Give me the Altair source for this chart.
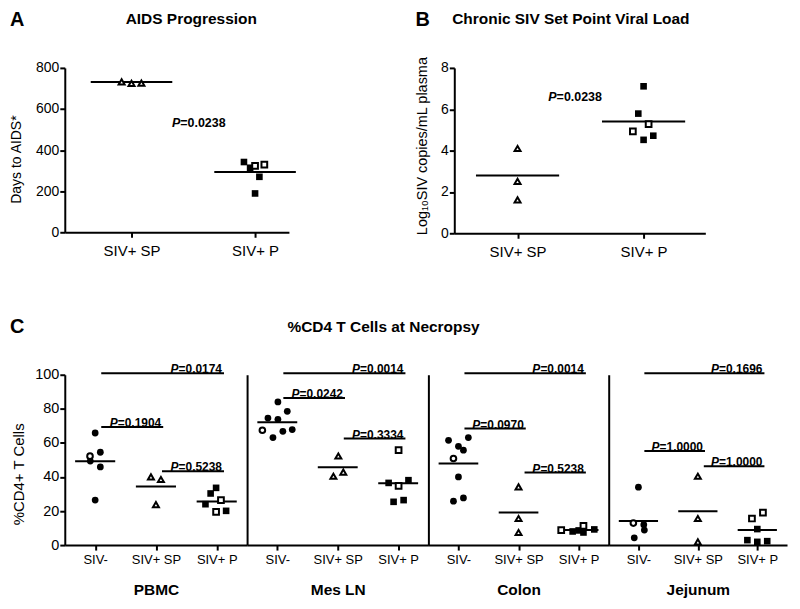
import altair as alt
import pandas as pd

FONT = "Liberation Sans"

# ---------------- Panel A : AIDS progression ----------------
AB_GROUPS = ["SIV+ SP", "SIV+ P"]
A_SP_DAYS = [732, 725, 726]
A_SP_DX = [-0.08, 0.0, 0.08]
A_P_DAYS = [342, 314, 323, 329, 270, 189]
A_P_DX = [-0.09, -0.04, 0.0, 0.075, 0.035, 0.0]
A_P_OPEN = [0, 0, 1, 1, 0, 0]
A_MEANS = [731, 293]
A_PTEXT = "=0.0238"
A_PTEXT_XY = [1.395, 510]

# ---------------- Panel B : set point viral load ----------------
B_SP_LOAD = [4.10, 2.51, 1.62]
B_SP_DX = [0.0, 0.0, 0.0]
B_P_LOAD = [7.11, 5.79, 5.28, 4.93, 4.72, 4.52]
B_P_DX = [0.0, -0.042, 0.04, -0.085, 0.077, 0.0]
B_P_OPEN = [0, 0, 1, 1, 0, 0]
B_MEANS = [2.80, 5.41]
B_PTEXT = "=0.0238"
B_PTEXT_XY = [1.31, 6.39]

# ---------------- Panel C : %CD4 T cells at necropsy ----------------
C_GROUPS = ["SIV-", "SIV+ SP", "SIV+ P"]
TISSUES = ["PBMC", "Mes LN", "Colon", "Jejunum"]
COMP_FROM = [1, 1, 2]
COMP_TO = [3, 2, 3]

PBMC_NEG = [65.8, 54.5, 52.2, 49.3, 45.9, 26.4]
PBMC_NEG_DX = [0.0, 0.085, -0.085, -0.08, 0.085, 0.0]
PBMC_NEG_OPEN = [0, 0, 1, 0, 0, 0]
PBMC_SP = [40.0, 38.5, 23.8]
PBMC_SP_DX = [-0.082, 0.082, 0.0]
PBMC_P = [33.6, 30.3, 26.4, 24.0, 19.5, 20.1]
PBMC_P_DX = [-0.01, -0.10, 0.07, -0.185, -0.01, 0.155]
PBMC_P_OPEN = [0, 0, 1, 0, 1, 0]
PBMC_MEANS = [49.2, 34.4, 25.6]
PBMC_P_VALUES = ["=0.0174", "=0.1904", "=0.5238"]
PBMC_P_LEVELS = [100.9, 69.3, 43.4]

MESLN_NEG = [84.0, 78.5, 74.6, 73.8, 67.4, 66.8, 67.8, 63.1]
MESLN_NEG_DX = [0.01, 0.165, -0.155, 0.01, -0.247, 0.092, 0.247, -0.072]
MESLN_NEG_OPEN = [0, 0, 0, 0, 1, 0, 0, 0]
MESLN_SP = [52.3, 42.8, 40.4]
MESLN_SP_DX = [0.01, 0.092, -0.072]
MESLN_P = [55.7, 38.1, 36.5, 34.7, 26.4, 25.4]
MESLN_P_DX = [0.007, 0.17, -0.158, 0.007, 0.09, -0.076]
MESLN_P_OPEN = [1, 0, 0, 1, 0, 0]
MESLN_MEANS = [72.1, 45.7, 36.3]
MESLN_P_VALUES = ["=0.0014", "=0.0242", "=0.3334"]
MESLN_P_LEVELS = [100.9, 86.3, 62.5]

COLON_NEG = [63.1, 61.5, 58.0, 55.7, 50.8, 40.0, 27.7, 25.8]
COLON_NEG_DX = [0.165, -0.165, 0.0, 0.083, -0.083, 0.0, 0.083, -0.083]
COLON_NEG_OPEN = [0, 0, 0, 0, 1, 0, 0, 0]
COLON_SP = [34.2, 15.6, 7.4]
COLON_SP_DX = [0.0, 0.0, 0.0]
COLON_P = [8.8, 8.0, 8.6, 11.3, 7.4, 9.2]
COLON_P_DX = [-0.29, -0.1, 0.0, 0.08, 0.08, 0.26]
COLON_P_OPEN = [1, 0, 0, 1, 0, 0]
COLON_MEANS = [47.9, 19.1, 8.8]
COLON_P_VALUES = ["=0.0014", "=0.0970", "=0.5238"]
COLON_P_LEVELS = [100.9, 68.4, 42.6]

JEJ_NEG = [34.0, 12.9, 12.0, 8.8, 4.3]
JEJ_NEG_DX = [0.0, -0.085, 0.09, 0.1, -0.07]
JEJ_NEG_OPEN = [0, 1, 0, 0, 0]
JEJ_SP = [40.4, 15.6, 1.9]
JEJ_SP_DX = [0.0, 0.0, 0.0]
JEJ_P = [19.1, 15.6, 9.4, 2.9, 1.9, 2.3]
JEJ_P_DX = [0.095, -0.09, 0.0, -0.167, 0.0, 0.167]
JEJ_P_OPEN = [1, 1, 0, 0, 0, 0]
JEJ_MEANS = [14.2, 19.9, 8.8]
JEJ_P_VALUES = ["=0.1696", "=1.0000", "=1.0000"]
JEJ_P_LEVELS = [100.9, 55.2, 46.3]

# ---------------- helpers ----------------
SIZE = {("circle", 0): 46, ("circle", 1): 32, ("triangle-up", 1): 36,
        ("triangle-up", 0): 36, ("square", 0): 44, ("square", 1): 33}
HALF = 0.33


def points_df(groups, dxs, opens, shapes):
    rows = []
    for gi, (ys, dx, op, shp) in enumerate(zip(groups, dxs, opens, shapes), start=1):
        for v, d, o in zip(ys, dx, op):
            rows.append({"x": gi + d, "y": v, "shape": shp, "open": int(o),
                         "size": SIZE[(shp, int(o))]})
    return pd.DataFrame(rows)


def label_expr(groups):
    s = ""
    for k, g in enumerate(groups[:-1], start=1):
        s += f"datum.value == {k} ? '{g}' : "
    return s + f"'{groups[-1]}'"


def note(text, x, y, size, bold=True, italic=False, angle=0, align="left", baseline="alphabetic"):
    kw = dict(font=FONT, fontSize=size, fontWeight="bold" if bold else "normal",
              align=align, baseline=baseline, color="black")
    if italic:
        kw["fontStyle"] = "italic"
    if angle:
        kw["angle"] = angle
    return alt.Chart(pd.DataFrame({"t": [text]})).mark_text(**kw).encode(
        text="t:N", x=alt.value(x), y=alt.value(y))


def data_layers(df, means, X, Y, X1):
    mdf = pd.DataFrame({"g": list(range(1, len(means) + 1)), "m": means})
    mean_layer = alt.Chart(mdf).transform_calculate(
        x1=f"datum.g - {HALF}", x2=f"datum.g + {HALF}"
    ).mark_rule(color="black", strokeWidth=2).encode(x=X1, x2="x2:Q", y=Y("m"))
    filled = alt.Chart(df).transform_filter("datum.open == 0").mark_point(
        filled=True, color="black", opacity=1
    ).encode(x=X("x"), y=Y("y"), shape=alt.Shape("shape:N", scale=None),
             size=alt.Size("size:Q", scale=None))
    opened = alt.Chart(df).transform_filter("datum.open == 1").mark_point(
        filled=True, fill="white", stroke="black", strokeWidth=2, opacity=1
    ).encode(x=X("x"), y=Y("y"), shape=alt.Shape("shape:N", scale=None),
             size=alt.Size("size:Q", scale=None))
    return [mean_layer, filled, opened]


AXIS_BASE = dict(domainColor="black", domainWidth=2, tickColor="black", tickWidth=2,
                 tickSize=5, labelColor="black", labelFont=FONT, grid=False,
                 labelFlush=False, labelOverlap=False)


def panel_ab(df, means, xdom, ydom, yvals, width, height, ptext, pxy, anns):
    xs = alt.Scale(domain=xdom, nice=False, zero=False)
    ys = alt.Scale(domain=ydom, nice=False, zero=False)
    xaxis = alt.Axis(values=[1, 2], labelExpr=label_expr(AB_GROUPS), title=None,
                     labelFontSize=15, labelPadding=6, **AXIS_BASE)
    yaxis = alt.Axis(values=yvals, title=None, labelFontSize=14, labelPadding=1, **AXIS_BASE)
    X = lambda f: alt.X(f"{f}:Q", scale=xs, axis=xaxis)
    Y = lambda f: alt.Y(f"{f}:Q", scale=ys, axis=yaxis)
    layers = data_layers(df, means, X, Y, X("x1"))
    pdf = pd.DataFrame({"x": [pxy[0]], "y": [pxy[1]], "lab": [ptext], "p": ["P"]})
    layers.append(alt.Chart(pdf).mark_text(font=FONT, fontSize=12.5, fontWeight="bold",
                                           align="left", baseline="alphabetic",
                                           color="black").encode(
        x=X("x"), y=Y("y"), text="lab:N"))
    layers.append(alt.Chart(pdf).mark_text(font=FONT, fontSize=12.5, fontWeight="bold",
                                           fontStyle="italic", align="right",
                                           baseline="alphabetic", color="black").encode(
        x=X("x"), y=Y("y"), text="p:N"))
    layers += anns
    return alt.layer(*layers).properties(width=width, height=height)


def panel_c(name, groups, dxs, opens, means, plevels, plabels, width, first, anns):
    xs = alt.Scale(domain=[0.5, 3.5], nice=False, zero=False)
    ys = alt.Scale(domain=[0, 100], nice=False, zero=False)
    xaxis = alt.Axis(values=[1, 2, 3], labelExpr=label_expr(C_GROUPS), title=name,
                     titleFont=FONT, titleFontSize=15.5, titleFontWeight="bold",
                     titleColor="black", titlePadding=17,
                     labelFontSize=13, labelPadding=3, **AXIS_BASE)
    if first:
        yaxis = alt.Axis(values=[0, 20, 40, 60, 80, 100], title=None, labelFontSize=14.5,
                         labelPadding=1, **AXIS_BASE)
    else:
        yaxis = alt.Axis(title=None, labels=False, ticks=False, domain=True,
                         domainColor="black", domainWidth=2, grid=False)
    X = lambda f: alt.X(f"{f}:Q", scale=xs, axis=xaxis)
    Y = lambda f: alt.Y(f"{f}:Q", scale=ys, axis=yaxis)
    df = points_df(groups, dxs, opens, ["circle", "triangle-up", "square"])
    layers = data_layers(df, means, X, Y, X("x1"))
    cdf = pd.DataFrame({"i": COMP_FROM, "j": COMP_TO, "lvl": plevels, "lab": plabels,
                        "p": ["P"] * len(plabels)})
    base = alt.Chart(cdf).transform_calculate(a="datum.i + 0.1", b="datum.j + 0.12")
    layers.append(base.mark_rule(color="black", strokeWidth=2).encode(
        x=X("a"), x2="b:Q", y=Y("lvl")))
    layers.append(base.mark_text(font=FONT, fontSize=12, fontWeight="bold", align="right",
                                 baseline="alphabetic", dx=-2, dy=0, color="black").encode(
        x=X("b"), y=Y("lvl"), text="lab:N"))
    layers.append(base.mark_text(font=FONT, fontSize=12, fontWeight="bold", fontStyle="italic",
                                 align="right", baseline="alphabetic", dx=-45.7, dy=0,
                                 color="black").encode(
        x=X("b"), y=Y("lvl"), text="p:N"))
    layers += anns
    return alt.layer(*layers).properties(width=width, height=171)


# ---------------- build panels ----------------
a_df = points_df([A_SP_DAYS, A_P_DAYS], [A_SP_DX, A_P_DX],
                 [[1] * len(A_SP_DAYS), A_P_OPEN], ["triangle-up", "square"])
panelA = panel_ab(a_df, A_MEANS, [0.46, 2.274], [0, 800], [0, 200, 400, 600, 800], 225, 165,
                  A_PTEXT, A_PTEXT_XY,
                  [note("A", -55, -42.5, 20),
                   note("AIDS Progression", 127, -44, 15.5, align="center"),
                   note("Days to AIDS*", -47.5, 92, 14, bold=False, angle=270,
                        align="center", baseline="middle")])

b_df = points_df([B_SP_LOAD, B_P_LOAD], [B_SP_DX, B_P_DX],
                 [[1] * len(B_SP_LOAD), B_P_OPEN], ["triangle-up", "square"])
panelB = panel_ab(b_df, B_MEANS, [0.498, 2.49], [0, 8], [0, 2, 4, 6, 8], 252, 166,
                  B_PTEXT, B_PTEXT_XY,
                  [note("B", -39, -42.5, 20),
                   note("Chronic SIV Set Point Viral Load", 117, -44, 15.5, align="center"),
                   note("Log\u2081\u2080SIV copies/mL plasma", -31, 78.5, 14.5, bold=False,
                        angle=270, align="center", baseline="middle")])

c_specs = [
    (TISSUES[0], [PBMC_NEG, PBMC_SP, PBMC_P], [PBMC_NEG_DX, PBMC_SP_DX, PBMC_P_DX],
     [PBMC_NEG_OPEN, [1] * 3, PBMC_P_OPEN], PBMC_MEANS, PBMC_P_LEVELS, PBMC_P_VALUES, 183),
    (TISSUES[1], [MESLN_NEG, MESLN_SP, MESLN_P], [MESLN_NEG_DX, MESLN_SP_DX, MESLN_P_DX],
     [MESLN_NEG_OPEN, [1] * 3, MESLN_P_OPEN], MESLN_MEANS, MESLN_P_LEVELS, MESLN_P_VALUES, 182),
    (TISSUES[2], [COLON_NEG, COLON_SP, COLON_P], [COLON_NEG_DX, COLON_SP_DX, COLON_P_DX],
     [COLON_NEG_OPEN, [1] * 3, COLON_P_OPEN], COLON_MEANS, COLON_P_LEVELS, COLON_P_VALUES, 181),
    (TISSUES[3], [JEJ_NEG, JEJ_SP, JEJ_P], [JEJ_NEG_DX, JEJ_SP_DX, JEJ_P_DX],
     [JEJ_NEG_OPEN, [1] * 3, JEJ_P_OPEN], JEJ_MEANS, JEJ_P_LEVELS, JEJ_P_VALUES, 179),
]

c_panels = []
for k, (name, g, d, o, m, lv, lb, w) in enumerate(c_specs):
    anns = []
    if k == 0:
        anns = [note("C", -55, -42, 20),
                note("%CD4 T Cells at Necropsy", 320, -43, 15.5, align="center"),
                note("%CD4+ T Cells", -46, 100, 15, bold=False, angle=270,
                     align="center", baseline="middle")]
    c_panels.append(panel_c(name, g, d, o, m, lv, lb, w, k == 0, anns))

top = alt.hconcat(panelA, panelB, spacing=166, bounds="flush")
bottom = alt.hconcat(*c_panels, spacing=0, bounds="flush")

chart = alt.vconcat(top, bottom, spacing=308, bounds="flush").properties(
    padding={"left": 2, "top": 0, "right": 5, "bottom": 5}
).configure_view(stroke=None).configure_text(font=FONT)

chart.save("out.html", embed_options={"renderer": "svg", "actions": False})
